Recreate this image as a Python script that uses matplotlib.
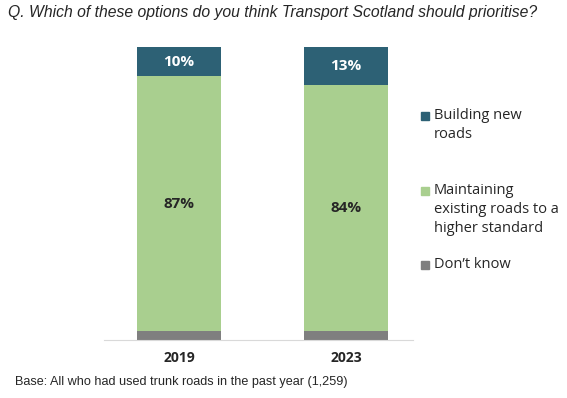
import matplotlib.pyplot as plt
from matplotlib.patches import Rectangle

years = ['2019', '2023']
dont_know = [3, 3]
maintaining = [87, 84]
building = [10, 13]

series_names = ['Building new\nroads', 'Maintaining\nexisting roads to a\nhigher standard', 'Don\u2019t know']
colors = {'building': '#2D6175', 'maintaining': '#A9CF8F', 'dont_know': '#7F7F7F'}

fig = plt.figure(figsize=(5.67, 3.98), dpi=100)
ax = fig.add_axes([0.183, 0.146, 0.545, 0.736])

x = range(len(years))
w = 0.5
ax.bar(x, dont_know, w, color=colors['dont_know'])
ax.bar(x, maintaining, w, bottom=dont_know, color=colors['maintaining'])
bottom2 = [a + b for a, b in zip(dont_know, maintaining)]
ax.bar(x, building, w, bottom=bottom2, color=colors['building'])

for i in x:
    ax.text(i, dont_know[i] + maintaining[i] / 2, f'{maintaining[i]}%', ha='center', va='center',
            fontsize=11, fontweight='bold', color='#262626', family='Open Sans')
    ax.text(i, bottom2[i] + building[i] / 2, f'{building[i]}%', ha='center', va='center',
            fontsize=11, fontweight='bold', color='white', family='Open Sans')

ax.set_xlim(-0.45, 1.4)
ax.set_ylim(0, 100)
ax.set_yticks([])
ax.set_xticks(list(x))
ax.set_xticklabels(years, fontsize=10, fontweight='bold', family='Open Sans', color='#262626')
ax.tick_params(axis='x', length=0, pad=8)
for s in ['top', 'right', 'left']:
    ax.spines[s].set_visible(False)
ax.spines['bottom'].set_color('#D9D9D9')

# legend drawn by hand to match the spacing
leg_y = [116, 191, 265]
leg_cols = [colors['building'], colors['maintaining'], colors['dont_know']]
for name, col, yp in zip(series_names, leg_cols, leg_y):
    fy = 1 - yp / 398
    fig.patches.append(Rectangle((421 / 567, fy - 4 / 398), 8 / 567, 8 / 398,
                                 transform=fig.transFigure, color=col))
    fig.text(434 / 567, fy + 8 / 398, name, ha='left', va='top', fontsize=10.5,
             family='Open Sans', color='#262626', linespacing=1.35)

fig.text(8 / 567, 1 - 12 / 398, 'Q. Which of these options do you think Transport Scotland should prioritise?',
         ha='left', va='center', fontsize=11.3, style='italic', family='Liberation Sans', color='#262626')
fig.text(15 / 567, 1 - 382 / 398, 'Base: All who had used trunk roads in the past year (1,259)',
         ha='left', va='center', fontsize=9.1, family='Liberation Sans', color='#262626')

fig.savefig('out.png', dpi=100)
